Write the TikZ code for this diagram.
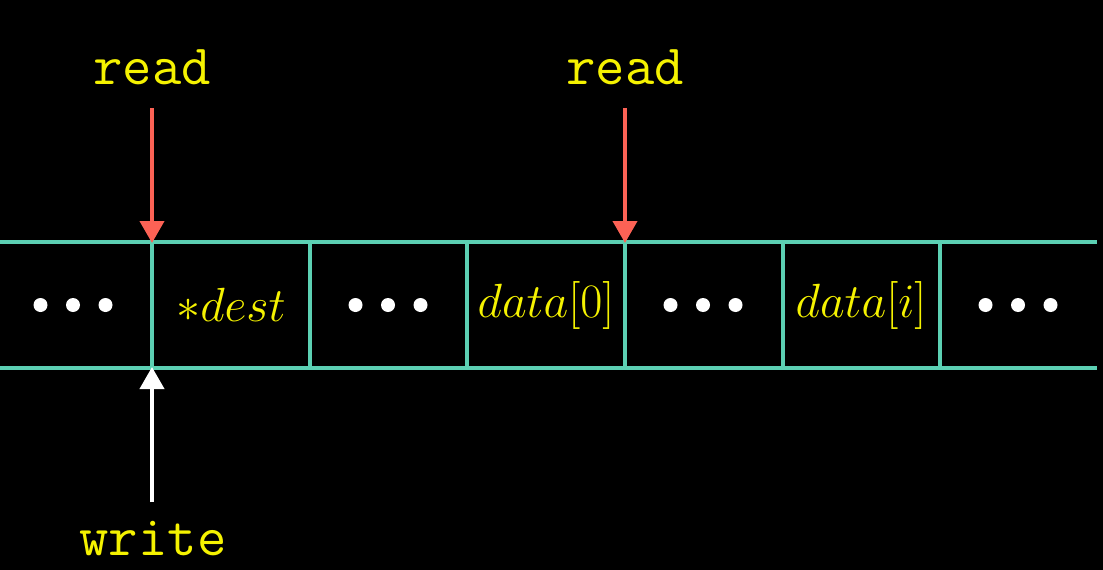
\documentclass[tikz,border=0pt]{standalone}
\usepackage{fix-cm}
\usepackage{fontspec}
\usetikzlibrary{arrows.meta}
\definecolor{mteal}{HTML}{5CD0B3}
\definecolor{mred}{HTML}{FC6255}
\definecolor{myellow}{HTML}{F5F200}
\tikzset{
  grid/.style={draw=mteal, line width=4pt},
  celltext/.style={text=myellow, font=\fontsize{48}{58}\selectfont, inner sep=0pt},
  label/.style={text=myellow, font=\fontsize{57}{66}\selectfont\ttfamily, inner sep=0pt},
  rarrow/.style={draw=mred, line width=4pt, -{Triangle[width=24pt,length=22pt]}},
  warrow/.style={draw=white, line width=4pt, -{Triangle[width=24pt,length=22pt]}},
  dot/.style={fill=white},
}
\begin{document}
\begin{tikzpicture}[x=1pt,y=-1pt]
\useasboundingbox (0,0) rectangle (1103,570);
\fill[black] (0,0) rectangle (1103,570);
% tape
\draw[grid] (0,242) -- (1097,242);
\draw[grid] (0,368) -- (1097,368);
\foreach \x/\n in {152/1,309.5/2,467/3,625/4,782.5/5,940/6}{
  \coordinate (t\n) at (\x,242);
  \coordinate (u\n) at (\x,368);
  \draw[grid] (\x,242) -- (\x,368);
}
% cells
\node[celltext] (c0) at (73,305) {};
\node[celltext] (c1) at (231,305) {$*dest$};
\node[celltext] (c2) at (388,305) {};
\node[celltext] (c3) at (546,305) {$data[0]$};
\node[celltext] (c4) at (703,305) {};
\node[celltext] (c5) at (861,305) {$data[i]$};
\node[celltext] (c6) at (1018,305) {};
\foreach \c in {c0,c2,c4,c6}{
  \fill[dot] (\c) ++(-32.5,0) circle (7);
  \fill[dot] (\c) circle (7);
  \fill[dot] (\c) ++(32.5,0) circle (7);
}
% labels
\node[label, anchor=base] (r1) at (152,84) {read};
\node[label, anchor=base] (r2) at (625,84) {read};
\node[label, anchor=base] (w) at (153,555) {write};
\coordinate (r1s) at (152,108);
\coordinate (r2s) at (625,108);
\coordinate (ws) at (152,502);
\draw[rarrow] (r1s) -- ([yshift=-1pt]t1);
\draw[rarrow] (r2s) -- ([yshift=-1pt]t4);
\draw[warrow] (ws) -- ([yshift=1pt]u1);
\end{tikzpicture}
\end{document}
